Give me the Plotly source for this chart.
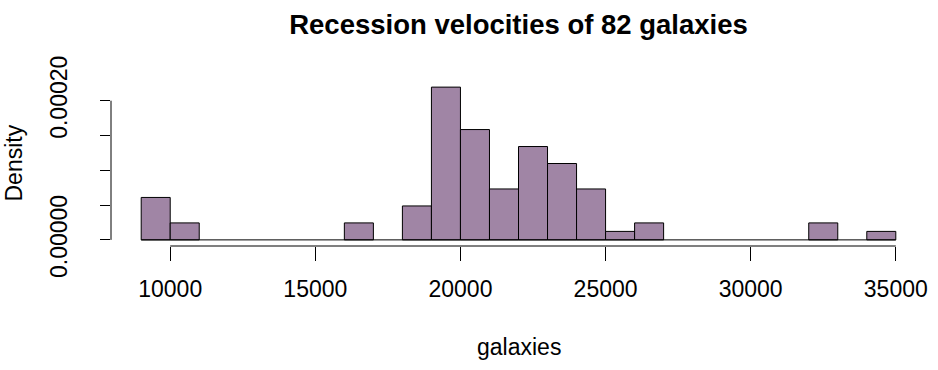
import plotly.graph_objects as go

# Histogram of the galaxies data (breaks every 1000 km/s)
bin_starts = list(range(9000, 35000, 1000))
counts = [5, 2, 0, 0, 0, 0, 0, 2, 0, 4, 18, 13, 6, 11, 9, 6, 1, 2, 0, 0, 0, 0, 0, 2, 0, 1]
bin_width = 1000
n_total = sum(counts)

x_ticks = [10000, 15000, 20000, 25000, 30000, 35000]
y_ticks = [0, 0.00005, 0.00010, 0.00015, 0.00020]
y_ticktext = ["0.00000", "", "", "", "0.00020"]

density = [c / (n_total * bin_width) for c in counts]
bx = [s + bin_width / 2 for s, c in zip(bin_starts, counts) if c > 0]
by = [d for d, c in zip(density, counts) if c > 0]

FONT = "Liberation Sans, Arial, Helvetica, sans-serif"

fig = go.Figure()
fig.add_trace(go.Bar(
    x=bx, y=by, width=bin_width,
    marker=dict(color="#A085A5", line=dict(color="black", width=1)),
    hoverinfo="skip",
))
# baseline of empty bins
fig.add_trace(go.Scatter(
    x=[bin_starts[0], bin_starts[-1] + bin_width], y=[0, 0],
    mode="lines", line=dict(color="black", width=1), hoverinfo="skip",
))

xmin, xmax = bin_starts[0], bin_starts[-1] + bin_width
xpad = (xmax - xmin) * 0.04
ymax = max(density)
ypad = ymax * 0.04

fig.update_layout(
    width=938, height=370,
    margin=dict(l=111, r=12, t=81, b=124),
    paper_bgcolor="white", plot_bgcolor="white",
    showlegend=False, bargap=0,
    font=dict(family=FONT, size=23, color="black"),
    title=dict(text="<b>Recession velocities of 82 galaxies</b>",
               x=0.5, xref="paper", xanchor="center",
               y=1 - 24 / 370, yref="container", yanchor="middle",
               font=dict(size=27.5, family=FONT, color="black")),
    xaxis=dict(range=[xmin - xpad, xmax + xpad], tickvals=x_ticks,
               ticktext=[str(v) for v in x_ticks],
               ticks="outside", ticklen=14, tickwidth=1, tickcolor="black",
               showline=False, showgrid=False, zeroline=False,
               ticklabelstandoff=8, automargin=False,
               tickfont=dict(size=23, family=FONT)),
    yaxis=dict(range=[-ypad, ymax + ypad], tickvals=y_ticks, ticktext=y_ticktext,
               ticks="outside", ticklen=10, tickwidth=1, tickcolor="black",
               showline=False, showgrid=False, zeroline=False,
               tickangle=-90, ticklabelstandoff=24, automargin=False,
               tickfont=dict(size=23, family=FONT)),
    shapes=[
        dict(type="line", xref="x", yref="paper", x0=x_ticks[0], x1=x_ticks[-1],
             y0=0, y1=0, line=dict(color="black", width=1)),
        dict(type="line", xref="paper", yref="y", x0=0, x1=0,
             y0=y_ticks[0], y1=y_ticks[-1], line=dict(color="black", width=1)),
    ],
    annotations=[
        dict(text="galaxies", xref="paper", yref="paper", x=0.5, y=0,
             yshift=-101, xanchor="center", yanchor="middle", showarrow=False,
             font=dict(size=23, family=FONT)),
        dict(text="Density", xref="paper", yref="paper", x=0, y=0.5,
             xshift=-98, xanchor="center", yanchor="middle", showarrow=False,
             textangle=-90, font=dict(size=23, family=FONT)),
    ],
)

fig.write_html(
    "out.html",
    config={"displayModeBar": False, "staticPlot": True},
    post_script="document.body.style.margin='0';document.body.style.overflow='hidden';",
)
